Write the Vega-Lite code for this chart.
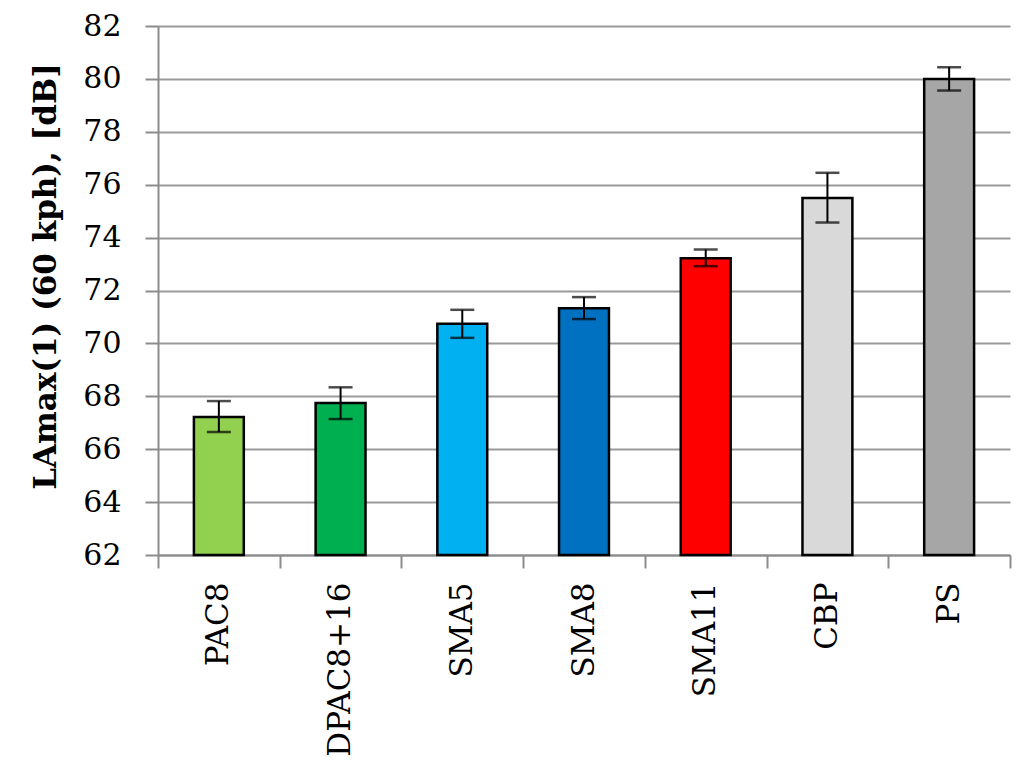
{
  "$schema": "https://vega.github.io/schema/vega-lite/v6.json",
  "autosize": {"type": "none"},
  "padding": {"left": 158, "top": 26, "right": 14, "bottom": 202},
  "width": 852,
  "height": 529,
  "background": "white",
  "config": {
    "view": {"stroke": null},
    "font": "DejaVu Serif"
  },
  "data": {
    "values": [
      {"mix": "PAC8", "value": 67.22, "low": 66.65, "high": 67.82},
      {"mix": "DPAC8+16", "value": 67.75, "low": 67.14, "high": 68.34},
      {"mix": "SMA5", "value": 70.74, "low": 70.21, "high": 71.27},
      {"mix": "SMA8", "value": 71.33, "low": 70.92, "high": 71.75},
      {"mix": "SMA11", "value": 73.22, "low": 72.92, "high": 73.55},
      {"mix": "CBP", "value": 75.5, "low": 74.57, "high": 76.45},
      {"mix": "PS", "value": 80.0, "low": 79.56, "high": 80.44}
    ]
  },
  "encoding": {
    "x": {
      "field": "mix",
      "type": "nominal",
      "sort": null,
      "scale": {"paddingInner": 0, "paddingOuter": 0},
      "axis": {
        "title": null,
        "tickBand": "extent",
        "labelAngle": -90,
        "labelAlign": "right",
        "labelBaseline": "middle",
        "labelFont": "DejaVu Serif",
        "labelFontSize": 31,
        "labelLimit": 400,
        "labelColor": "#000000",
        "labelPadding": 14,
        "tickSize": 13,
        "tickColor": "#8c8c8c",
        "tickWidth": 2,
        "domainColor": "#8c8c8c",
        "domainWidth": 2,
        "grid": false
      }
    }
  },
  "layer": [
    {
      "mark": {"type": "bar", "width": {"band": 0.41}, "stroke": "#000000", "strokeWidth": 2.5},
      "encoding": {
        "y": {
          "field": "value",
          "type": "quantitative",
          "scale": {"domain": [62, 82], "zero": false, "nice": false},
          "axis": {
            "title": "LAmax(1) (60 kph), [dB]",
            "titleFont": "DejaVu Serif",
            "titleFontSize": 31,
            "titleFontWeight": "bold",
            "titleColor": "#000000",
            "titlePadding": 20,
            "titleY": 250,
            "values": [62, 64, 66, 68, 70, 72, 74, 76, 78, 80, 82],
            "labelFont": "DejaVu Serif",
            "labelFontSize": 30,
            "labelColor": "#000000",
            "labelPadding": 24,
            "tickSize": 13,
            "tickColor": "#8c8c8c",
            "tickWidth": 2,
            "domainColor": "#8c8c8c",
            "domainWidth": 2,
            "grid": true,
            "gridColor": "#9a9a9a",
            "gridWidth": 2
          }
        },
        "y2": {"datum": 62},
        "color": {
          "field": "mix",
          "type": "nominal",
          "legend": null,
          "scale": {
            "domain": ["PAC8", "DPAC8+16", "SMA5", "SMA8", "SMA11", "CBP", "PS"],
            "range": ["#92D050", "#00B050", "#00B0F0", "#0070C0", "#FF0000", "#D9D9D9", "#A6A6A6"]
          }
        }
      }
    },
    {
      "mark": {"type": "rule", "color": "#000000", "strokeWidth": 2},
      "encoding": {
        "y": {"field": "low", "type": "quantitative"},
        "y2": {"field": "high"}
      }
    },
    {
      "mark": {"type": "tick", "color": "#000000", "thickness": 2.5, "size": 24},
      "encoding": {
        "y": {"field": "low", "type": "quantitative"}
      }
    },
    {
      "mark": {"type": "tick", "color": "#000000", "thickness": 2.5, "size": 24},
      "encoding": {
        "y": {"field": "high", "type": "quantitative"}
      }
    }
  ]
}
